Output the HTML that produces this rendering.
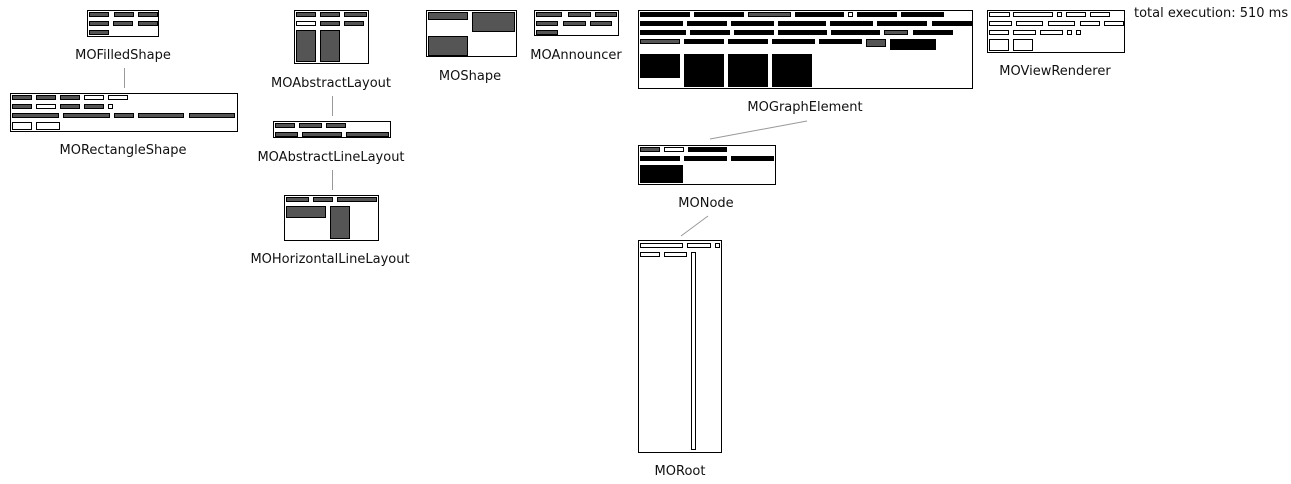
<!DOCTYPE html>
<html><head><meta charset="utf-8"><style>
html,body{margin:0;padding:0;background:#fff;width:1291px;height:484px;overflow:hidden}
svg{display:block}
text{font-family:"DejaVu Sans","Liberation Sans",sans-serif;font-size:13px;fill:#111}
.b{fill:#fff;stroke:#000;stroke-width:1}
.g{fill:#555;stroke:#000;stroke-width:1}
.k{fill:#000;stroke:#000;stroke-width:1}
.w{fill:#fff;stroke:#000;stroke-width:1}
.l{stroke:#999;stroke-width:1}
</style></head><body>
<svg width="1291" height="484" xmlns="http://www.w3.org/2000/svg">
<!-- connectors -->
<line class="l" x1="124.5" y1="68" x2="124.5" y2="88"/>
<line class="l" x1="332.5" y1="96" x2="332.5" y2="116"/>
<line class="l" x1="332.5" y1="170" x2="332.5" y2="190"/>
<line class="l" x1="807" y1="121" x2="710" y2="139"/>
<line class="l" x1="708" y1="216" x2="681" y2="236"/>

<!-- MOFilledShape -->
<rect class="b" x="87.5" y="10.5" width="71" height="26"/>
<rect class="g" x="89.5" y="12.5" width="19" height="4"/><rect class="g" x="114.5" y="12.5" width="19" height="4"/><rect class="g" x="138.5" y="12.5" width="19" height="4"/>
<rect class="g" x="89.5" y="21.5" width="19" height="4"/><rect class="g" x="113.5" y="21.5" width="19" height="4"/><rect class="g" x="138.5" y="21.5" width="19" height="4"/>
<rect class="g" x="89.5" y="30.5" width="19" height="4"/>
<text x="123" y="59" text-anchor="middle">MOFilledShape</text>

<!-- MORectangleShape -->
<rect class="b" x="10.5" y="93.5" width="227" height="38"/>
<rect class="g" x="12.5" y="95.5" width="19" height="4"/><rect class="g" x="36.5" y="95.5" width="19" height="4"/><rect class="g" x="60.5" y="95.5" width="19" height="4"/><rect class="w" x="84.5" y="95.5" width="19" height="4"/><rect class="w" x="108.5" y="95.5" width="19" height="4"/>
<rect class="g" x="12.5" y="104.5" width="19" height="4"/><rect class="w" x="36.5" y="104.5" width="19" height="4"/><rect class="g" x="60.5" y="104.5" width="19" height="4"/><rect class="g" x="84.5" y="104.5" width="19" height="4"/><rect class="w" x="108.5" y="104.5" width="4" height="4"/>
<rect class="g" x="12.5" y="113.5" width="46" height="4"/><rect class="g" x="63.5" y="113.5" width="46" height="4"/><rect class="g" x="114.5" y="113.5" width="19" height="4"/><rect class="g" x="138.5" y="113.5" width="45" height="4"/><rect class="g" x="189.5" y="113.5" width="45" height="4"/>
<rect class="w" x="12.5" y="122.5" width="19" height="7"/><rect class="w" x="36.5" y="122.5" width="23" height="7"/>
<text x="123" y="154" text-anchor="middle">MORectangleShape</text>

<!-- MOAbstractLayout -->
<rect class="b" x="294.5" y="10.5" width="74" height="53"/>
<rect class="g" x="296.5" y="12.5" width="19" height="4"/><rect class="g" x="320.5" y="12.5" width="19" height="4"/><rect class="g" x="344.5" y="12.5" width="22" height="4"/>
<rect class="w" x="296.5" y="21.5" width="19" height="4"/><rect class="g" x="320.5" y="21.5" width="19" height="4"/><rect class="g" x="344.5" y="21.5" width="19" height="4"/>
<rect class="g" x="296.5" y="30.5" width="19" height="31"/><rect class="g" x="320.5" y="30.5" width="19" height="31"/>
<text x="331" y="87" text-anchor="middle">MOAbstractLayout</text>

<!-- MOAbstractLineLayout -->
<rect class="b" x="273.5" y="121.5" width="117" height="16"/>
<rect class="g" x="275.5" y="123.5" width="19" height="4"/><rect class="g" x="299.5" y="123.5" width="22" height="4"/><rect class="g" x="326.5" y="123.5" width="19" height="4"/>
<rect class="g" x="275.5" y="132.5" width="22" height="4"/><rect class="g" x="302.5" y="132.5" width="39" height="4"/><rect class="g" x="346.5" y="132.5" width="42" height="4"/>
<text x="331" y="161" text-anchor="middle">MOAbstractLineLayout</text>

<!-- MOHorizontalLineLayout -->
<rect class="b" x="284.5" y="195.5" width="94" height="45"/>
<rect class="g" x="286.5" y="197.5" width="22" height="4"/><rect class="g" x="313.5" y="197.5" width="19" height="4"/><rect class="g" x="337.5" y="197.5" width="39" height="4"/>
<rect class="g" x="286.5" y="206.5" width="39" height="11"/><rect class="g" x="330.5" y="206.5" width="19" height="32"/>
<text x="330" y="263" text-anchor="middle">MOHorizontalLineLayout</text>

<!-- MOShape -->
<rect class="b" x="426.5" y="10.5" width="90" height="46"/>
<rect class="g" x="428.5" y="12.5" width="39" height="7"/><rect class="g" x="472.5" y="12.5" width="42" height="19"/><rect class="g" x="428.5" y="36.5" width="39" height="19"/>
<text x="470" y="80" text-anchor="middle">MOShape</text>

<!-- MOAnnouncer -->
<rect class="b" x="534.5" y="10.5" width="84" height="25"/>
<rect class="g" x="536.5" y="12.5" width="25" height="4"/><rect class="g" x="568.5" y="12.5" width="22" height="4"/><rect class="g" x="595.5" y="12.5" width="21" height="4"/>
<rect class="g" x="536.5" y="21.5" width="21" height="4"/><rect class="g" x="563.5" y="21.5" width="22" height="4"/><rect class="g" x="590.5" y="21.5" width="21" height="4"/>
<rect class="g" x="536.5" y="30.5" width="21" height="4"/>
<text x="576" y="59" text-anchor="middle">MOAnnouncer</text>

<!-- MOGraphElement -->
<rect class="b" x="638.5" y="10.5" width="334" height="78"/>
<rect class="k" x="640.5" y="12.5" width="49" height="4"/><rect class="k" x="694.5" y="12.5" width="49" height="4"/><rect class="g" x="748.5" y="12.5" width="42" height="4"/><rect class="k" x="795.5" y="12.5" width="48" height="4"/><rect class="w" x="848.5" y="12.5" width="4" height="4"/><rect class="k" x="857.5" y="12.5" width="39" height="4"/><rect class="k" x="901.5" y="12.5" width="42" height="4"/>
<rect class="k" x="640.5" y="21.5" width="42" height="4"/><rect class="k" x="687.5" y="21.5" width="39" height="4"/><rect class="k" x="731.5" y="21.5" width="42" height="4"/><rect class="k" x="778.5" y="21.5" width="47" height="4"/><rect class="k" x="830.5" y="21.5" width="42" height="4"/><rect class="k" x="877.5" y="21.5" width="49" height="4"/><rect class="k" x="932.5" y="21.5" width="39" height="4"/>
<rect class="k" x="640.5" y="30.5" width="45" height="4"/><rect class="k" x="690.5" y="30.5" width="39" height="4"/><rect class="k" x="734.5" y="30.5" width="39" height="4"/><rect class="k" x="778.5" y="30.5" width="48" height="4"/><rect class="k" x="831.5" y="30.5" width="48" height="4"/><rect class="g" x="884.5" y="30.5" width="23" height="4"/><rect class="k" x="913.5" y="30.5" width="39" height="4"/>
<rect class="g" x="640.5" y="39.5" width="39" height="4"/><rect class="k" x="684.5" y="39.5" width="39" height="4"/><rect class="k" x="728.5" y="39.5" width="39" height="4"/><rect class="k" x="772.5" y="39.5" width="42" height="4"/><rect class="k" x="819.5" y="39.5" width="42" height="4"/><rect class="g" x="866.5" y="39.5" width="19" height="7"/><rect class="k" x="890.5" y="39.5" width="45" height="10"/>
<rect class="k" x="640.5" y="54.5" width="39" height="23"/><rect class="k" x="684.5" y="54.5" width="39" height="32"/><rect class="k" x="728.5" y="54.5" width="39" height="32"/><rect class="k" x="772.5" y="54.5" width="39" height="32"/>
<text x="805" y="111" text-anchor="middle">MOGraphElement</text>

<!-- MONode -->
<rect class="b" x="638.5" y="145.5" width="137" height="39"/>
<rect class="g" x="640.5" y="147.5" width="19" height="4"/><rect class="w" x="664.5" y="147.5" width="19" height="4"/><rect class="k" x="688.5" y="147.5" width="38" height="4"/>
<rect class="k" x="640.5" y="156.5" width="39" height="4"/><rect class="k" x="684.5" y="156.5" width="42" height="4"/><rect class="k" x="731.5" y="156.5" width="42" height="4"/>
<rect class="k" x="640.5" y="165.5" width="42" height="17"/>
<text x="706" y="207" text-anchor="middle">MONode</text>

<!-- MORoot -->
<rect class="b" x="638.5" y="240.5" width="83" height="212"/>
<rect class="w" x="640.5" y="243.5" width="42" height="4"/><rect class="w" x="687.5" y="243.5" width="23" height="4"/><rect class="w" x="715.5" y="243.5" width="4" height="4"/>
<rect class="w" x="640.5" y="252.5" width="19" height="4"/><rect class="w" x="664.5" y="252.5" width="22" height="4"/>
<rect class="w" x="691.5" y="252.5" width="4" height="197"/>
<text x="680" y="475" text-anchor="middle">MORoot</text>

<!-- MOViewRenderer -->
<rect class="b" x="987.5" y="10.5" width="137" height="42"/>
<rect class="w" x="989.5" y="12.5" width="20" height="4"/><rect class="w" x="1013.5" y="12.5" width="39" height="4"/><rect class="w" x="1057.5" y="12.5" width="4" height="4"/><rect class="w" x="1066.5" y="12.5" width="19" height="4"/><rect class="w" x="1090.5" y="12.5" width="19" height="4"/>
<rect class="w" x="989.5" y="21.5" width="22" height="4"/><rect class="w" x="1016.5" y="21.5" width="26" height="4"/><rect class="w" x="1048.5" y="21.5" width="26" height="4"/><rect class="w" x="1080.5" y="21.5" width="19" height="4"/><rect class="w" x="1104.5" y="21.5" width="19" height="4"/>
<rect class="w" x="989.5" y="30.5" width="19" height="4"/><rect class="w" x="1013.5" y="30.5" width="22" height="4"/><rect class="w" x="1040.5" y="30.5" width="22" height="4"/><rect class="w" x="1067.5" y="30.5" width="4" height="4"/><rect class="w" x="1076.5" y="30.5" width="4" height="4"/>
<rect class="w" x="989.5" y="39.5" width="19" height="11"/><rect class="w" x="1013.5" y="39.5" width="19" height="11"/>
<text x="1055" y="75" text-anchor="middle">MOViewRenderer</text>

<text x="1134" y="17">total execution: 510 ms</text>
</svg>
</body></html>
